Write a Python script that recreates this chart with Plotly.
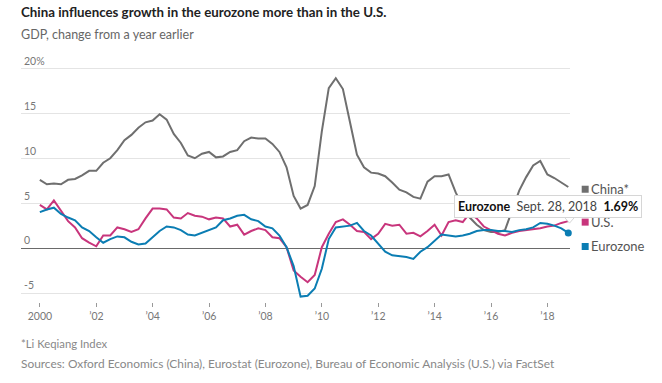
import plotly.graph_objects as go

# ---- data (quarterly, year-over-year GDP change, %) ----
dates = ['1999-12-31'] + [f'{y}-{md}' for y in range(2000, 2019)
                          for md in ('03-31', '06-30', '09-30', '12-31')]
dates = [d for d in dates if d <= '2018-06-30'] + ['2018-09-28']

china = [7.6, 7.1, 7.2, 7.1, 7.6, 7.7, 8.1, 8.6, 8.6, 9.5,
         10.0, 10.9, 12.0, 12.6, 13.4, 14.0, 14.2, 14.9, 14.3, 12.7,
         11.7, 10.3, 10.0, 10.5, 10.7, 10.1, 10.2, 10.7, 10.9, 11.9,
         12.3, 12.2, 12.2, 11.6, 10.7, 9.0, 5.8, 4.4, 4.8, 6.9,
         13.0, 17.8, 18.9, 17.7, 14.0, 10.4, 9.0, 8.4, 8.3, 8.0,
         7.3, 6.5, 6.2, 5.7, 5.5, 7.4, 8.0, 8.0, 8.2, 6.2,
         4.6, 3.4, 2.6, 2.0, 1.8, 1.8, 2.0, 4.2, 6.4, 7.9,
         9.2, 9.7, 8.2, 7.8, 7.3, 6.8]

us = [4.8, 4.3, 5.3, 4.1, 3.0, 2.3, 1.1, 0.6, 0.2, 1.4,
      1.4, 2.3, 2.1, 1.8, 2.1, 3.3, 4.4, 4.4, 4.3, 3.4,
      3.3, 3.9, 3.6, 3.5, 3.2, 3.4, 3.3, 2.4, 2.6, 1.5,
      1.9, 2.2, 2.0, 1.2, 1.1, 0.1, -2.5, -3.2, -3.8, -3.0,
      0.1, 1.6, 2.9, 3.2, 2.6, 1.9, 1.8, 1.0, 1.6, 2.7,
      2.5, 2.6, 1.6, 1.7, 1.3, 1.9, 2.6, 1.4, 2.9, 3.1,
      2.9, 3.9, 3.3, 2.4, 2.0, 1.6, 1.4, 1.7, 1.9, 2.0,
      2.1, 2.2, 2.4, 2.5, 2.8, 3.0]

eurozone = [4.0, 4.3, 4.5, 3.8, 3.4, 3.1, 2.3, 1.9, 1.2, 0.6,
            1.0, 1.3, 1.2, 0.7, 0.4, 0.5, 1.2, 1.9, 2.4, 2.3,
            2.0, 1.5, 1.4, 1.7, 2.0, 2.3, 3.1, 3.3, 3.6, 3.7,
            3.2, 3.0, 2.4, 2.2, 1.4, 0.1, -2.0, -5.4, -5.3, -4.5,
            -2.3, 1.0, 2.3, 2.4, 2.5, 2.8, 1.9, 1.4, 0.5, -0.4,
            -0.8, -0.9, -1.0, -1.2, -0.4, 0.1, 0.8, 1.5, 1.4, 1.3,
            1.4, 1.6, 1.9, 2.0, 2.0, 1.9, 1.9, 1.8, 2.0, 2.1,
            2.3, 2.8, 2.7, 2.5, 2.2, 1.69]

series_names = ['China*', 'U.S.', 'Eurozone']
series_values = [china, us, eurozone]
series_colors = ['#6f6f6f', '#c8357c', '#0b7db3']

y_tickvals = [-5, 0, 5, 10, 15, 20]
y_ticktext = ['-5', '0', '5', '10', '15', '20%']
x_tickvals = [f'{y}-01-01' for y in range(2000, 2019, 2)]
x_ticktext = ['2000'] + [f'\u2019{str(y)[2:]}' for y in range(2002, 2019, 2)]

# legend label vertical positions (data units), nudged to avoid overlap
legend_y = [6.55, 2.89, 0.18]

FONT = "Lato, 'Open Sans', sans-serif"

fig = go.Figure()
for name, vals, col in zip(series_names, series_values, series_colors):
    fig.add_trace(go.Scatter(x=dates, y=vals, mode='lines', name=name,
                             line=dict(color=col, width=2), hoverinfo='skip'))

# highlighted end point of eurozone series
fig.add_trace(go.Scatter(x=[dates[-1]], y=[eurozone[-1]], mode='markers',
                         marker=dict(color=series_colors[2], size=7),
                         hoverinfo='skip', cliponaxis=False))

annotations = [
    dict(text='<b>China influences growth in the eurozone more than in the U.S.</b>',
         xref='paper', yref='paper', x=0, y=1.215, xanchor='left', yanchor='middle',
         xshift=-2, showarrow=False, font=dict(size=13.3, color='#222', family=FONT)),
    dict(text='GDP, change from a year earlier',
         xref='paper', yref='paper', x=0, y=1.12, xanchor='left', yanchor='middle',
         xshift=-2, showarrow=False, font=dict(size=12.5, color='#666', family=FONT)),
    dict(text='*Li Keqiang Index',
         xref='paper', yref='paper', x=0, y=-0.175, xanchor='left', yanchor='middle',
         xshift=-2, showarrow=False, font=dict(size=11.3, color='#888', family=FONT)),
    dict(text='Sources: Oxford Economics (China), Eurostat (Eurozone), '
              'Bureau of Economic Analysis (U.S.) via FactSet',
         xref='paper', yref='paper', x=0, y=-0.257, xanchor='left', yanchor='middle',
         xshift=-2, showarrow=False, font=dict(size=11.9, color='#888', family=FONT)),
]

shapes = []
for name, col, ly in zip(series_names, series_colors, legend_y):
    shapes.append(dict(type='rect', xref='paper', yref='y',
                       x0=1.0213, x1=1.0340, y0=ly - 0.39, y1=ly + 0.39,
                       fillcolor=col, line=dict(width=0)))
    annotations.append(dict(text=name, xref='paper', yref='y', x=1.034, y=ly,
                            xanchor='left', yanchor='middle', showarrow=False,
                            font=dict(size=13, color='#555', family=FONT)))

# static tooltip for last eurozone value
tip = ('<b>Eurozone</b>\u00a0\u00a0<span style="color:#444">Sept. 28, 2018</span>'
       f'\u00a0\u00a0<b>{eurozone[-1]:.2f}%</b>')
shapes.append(dict(type='path', xref='paper', yref='y',
                   path='M 0.9900 3.42 L 1.0082 3.42 L 0.9991 2.78 Z',
                   fillcolor='white', line=dict(color='#d6d6d6', width=1)))
annotations.append(dict(text=tip, xref='paper', yref='y', x=0.9608, y=4.62,
                        xanchor='center', yanchor='middle', showarrow=False,
                        bgcolor='white', bordercolor='#d6d6d6',
                        borderwidth=1, borderpad=3,
                        font=dict(size=12.5, color='#111', family=FONT)))

fig.update_layout(
    width=662, height=383,
    margin=dict(l=21, r=92, t=63, b=81),
    paper_bgcolor='white', plot_bgcolor='white',
    showlegend=False,
    font=dict(family=FONT),
    annotations=annotations,
    shapes=shapes,
    xaxis=dict(type='date', range=['1999-05-01', '2018-10-20'],
               tickvals=x_tickvals, ticktext=x_ticktext, automargin=False,
               ticks='outside', ticklen=4, tickwidth=1, tickcolor='#999',
               showgrid=False, showline=False, zeroline=False,
               tickfont=dict(size=10.5, color='#777', family=FONT)),
    yaxis=dict(range=[-6, 20.6], tickvals=y_tickvals, ticktext=y_ticktext,
               ticklabelposition='inside top', ticklabeloverflow='allow',
               ticks='', automargin=False,
               showgrid=True, gridcolor='#e4e4e4', gridwidth=1,
               zeroline=True, zerolinecolor='#6a6a6a', zerolinewidth=1,
               showline=False,
               tickfont=dict(size=10.5, color='#777', family=FONT)),
)

fig.write_html('out.html',
               config={'displayModeBar': False},
               post_script="document.body.style.margin='0';"
                           "document.body.style.padding='0';"
                           "document.body.style.overflow='hidden';")
